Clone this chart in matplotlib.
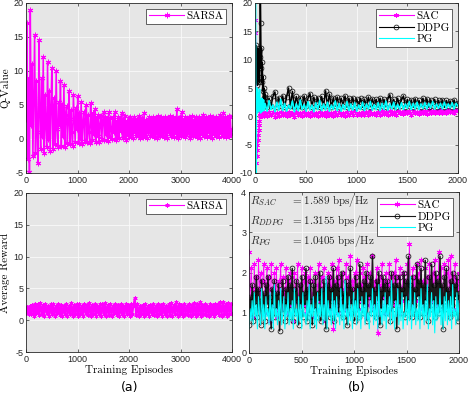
import numpy as np
import matplotlib.pyplot as plt

plt.rcParams['axes.unicode_minus'] = False
plt.rcParams['mathtext.fontset'] = 'cm'

# ---- (a) SARSA, 4000 episodes ----
sarsa_q = [
    3.0, 17.0, -3.0, 9.0, -4.8, 19.0, 2.0, 11.0, -2.5, 6.0,
    15.3, -2.0, 8.5, 1.0, -3.6, 14.5, 4.0, -1.5, 9.0, 0.5,
    12.0, -2.0, 6.5, 2.0, -1.2, 11.3, 0.0, 7.0, -1.8, 5.0,
    10.5, -1.5, 4.0, 6.0, -0.8, 10.0, 1.5, -1.2, 5.5, 2.0,
    8.6, -1.0, 5.0, 0.5, 8.0, -1.2, 3.5, 4.8, -0.6, 2.5,
    7.0, -0.8, 4.2, 1.0, -1.0, 6.5, 3.0, -0.5, 4.5, 1.5,
    6.3, -0.6, 3.8, 0.2, 5.5, -0.8, 2.5, 4.0, -0.3, 3.0,
    5.0, -0.5, 3.6, 1.0, -0.6, 5.3, 2.0, -0.2, 3.8, 0.8,
    4.4, -0.4, 3.2, 0.5, 3.5, -0.5, 2.2, 3.4, 0.0, 2.8,
    4.0, -0.2, 3.3, 0.8, 2.9, -0.3, 4.0, 0.3, 3.1, 1.5,
    0.0, 3.2, 1.0, 3.9, -0.2, 2.7, 0.5, 3.3, 0.2, 3.0,
    1.2, 3.8, 0.1, 2.9, 0.6, 3.4, -0.1, 2.6, 0.8, 3.1,
    0.3, 3.2, 0.9, 2.8, 0.2, 3.3, 1.1, 2.7, 0.4, 3.0,
    0.6, 3.4, 0.1, 2.9, 0.8, 3.1, 0.3, 3.8, 0.5, 2.8,
    0.2, 3.0, 1.0, 3.3, 0.4, 2.9, 0.7, 3.2, 0.3, 2.7,
    0.9, 3.1, 0.2, 3.4, 0.6, 2.8, 0.4, 3.2, 0.8, 3.0,
    0.3, 3.3, 0.7, 2.9, 0.2, 3.1, 1.0, 3.4, 0.4, 2.8,
    0.6, 3.2, 0.3, 3.0, 0.9, 4.4, 0.2, 3.1, 0.7, 3.3,
    0.4, 4.0, 0.8, 2.9, 0.3, 3.2, 0.6, 3.0, 1.0, 3.3,
    0.2, 3.1, 0.7, 3.4, 0.4, 2.8, 0.9, 3.2, 0.3, 3.0,
    0.6, 3.3, 0.2, 3.0, 0.8, 3.5, 0.4, 2.9, 0.7, 3.2,
    0.3, 3.0, 1.0, 3.4, 0.5, 3.1, 0.2, 3.3, 0.8, 2.9,
    0.4, 3.2, 0.7, 3.0, 0.3, 3.5, 0.9, 3.1, 0.5, 3.8,
    0.6, 3.3, 0.3, 3.0, 0.8, 3.4, 0.5, 3.2, 0.7, 1.5,
]
sarsa_r = [
    1.2, 2.0, 0.9, 2.2, 1.0, 2.4, 0.7, 2.6, 1.1, 2.5,
    0.8, 2.7, 1.0, 2.4, 0.6, 2.6, 1.2, 2.3, 0.7, 2.5,
    0.9, 2.6, 0.6, 2.2, 1.1, 2.5, 0.8, 2.4, 0.6, 2.3,
    1.0, 2.6, 0.7, 2.3, 0.9, 2.7, 0.6, 2.4, 1.0, 2.5,
    0.7, 2.6, 0.9, 2.3, 0.6, 2.5, 1.1, 2.4, 0.8, 2.7,
    0.6, 2.4, 1.0, 2.6, 0.7, 2.3, 0.9, 2.5, 0.6, 2.6,
    1.0, 2.7, 0.7, 2.4, 0.8, 2.5, 0.6, 2.3, 1.1, 2.6,
    0.8, 2.4, 0.6, 2.5, 0.9, 2.3, 0.7, 2.6, 1.0, 2.4,
    0.7, 2.5, 0.9, 2.4, 3.5, 0.8, 2.6, 0.6, 2.3, 1.0,
    2.4, 0.7, 2.5, 0.9, 2.2, 0.6, 2.4, 1.0, 2.6, 0.8,
    2.3, 0.7, 2.5, 1.0, 2.4, 0.6, 2.6, 0.9, 2.3, 0.7,
    2.5, 0.8, 2.7, 0.6, 2.4, 1.0, 2.8, 0.7, 2.5, 0.9,
    2.4, 0.6, 2.6, 1.0, 2.3, 0.8, 2.5, 0.7, 2.4, 0.9,
    2.7, 0.7, 2.5, 0.9, 2.8, 0.6, 2.4, 1.0, 2.5, 0.8,
    2.3, 0.7, 2.6, 0.9, 2.4, 0.6, 2.5, 1.1, 2.6, 0.8,
    2.8, 0.7, 2.9, 0.9, 2.6, 0.6, 2.7, 1.0, 2.5, 0.9,
]

# ---- (b) SAC / DDPG / PG, 2000 episodes ----
# Q-value: first 100 episodes sampled every 4 episodes, then 100 samples up to 2000
sac_q_early = [17.0, 14.7, 11.0, -8.2, -7.0, -6.0, -5.0, -4.2, -3.3, -2.4,
               -1.5, -0.8, 0.0, 0.5, 0.1, 0.7, 0.2, 0.6, 0.0, 0.5,
               0.2, 0.7, 0.1, 0.6, 0.3]
ddpg_q_early = [7.5, 10.0, 6.0, 12.5, 8.0, 11.0, 5.5, 12.0, 9.0, 7.0,
                11.5, 6.0, 10.5, 24.0, 16.5, 8.5, 12.0, 6.0, 9.5, 4.5,
                7.0, 3.2, 5.0, 2.0, 4.0]
pg_q_early = [2.0, 24.0, -14.0, 3.0, 0.5, 5.0, 1.0, 4.2, 0.8, 3.5,
              1.5, 4.8, 1.0, 3.0, 0.6, 2.8, 1.2, 3.2, 0.9, 2.5,
              1.4, 2.9, 1.0, 2.2, 1.5]
sac_q_late = [
    0.6, 0.0, 0.7, 0.2, 0.8, -0.1, 0.5, 0.1, 0.7, 0.2,
    0.6, 0.0, 0.8, 0.3, 0.5, -0.1, 0.7, 0.2, 0.6, 0.1,
    0.8, 0.2, 0.5, 0.0, 0.7, 0.3, 0.6, 0.1, 0.8, 0.2,
    0.5, 0.1, 0.7, 0.3, 0.6, 0.0, 0.8, 0.2, 0.7, 0.3,
    0.6, 0.1, 0.8, 0.3, 0.7, 0.2, 0.9, 0.3, 0.6, 0.2,
    0.8, 0.3, 0.7, 0.2, 0.9, 0.4, 0.6, 0.3, 0.8, 0.2,
    0.9, 0.4, 0.7, 0.3, 1.0, 0.4, 0.8, 0.3, 0.9, 0.5,
    0.8, 0.4, 1.0, 0.5, 0.9, 0.3, 1.0, 0.5, 0.8, 0.4,
    1.0, 0.5, 0.9, 0.4, 1.1, 0.6, 0.9, 0.5, 1.0, 0.6,
    1.1, 0.6, 0.9, 0.5, 1.2, 0.7, 1.0, 0.6, 1.2, 0.9,
]
ddpg_q_late = [
    3.4, 1.6, 3.2, 1.8, 3.5, 4.3, 1.7, 3.3, 1.9, 3.6,
    1.6, 3.4, 5.0, 1.8, 4.4, 1.7, 3.5, 1.9, 3.3, 1.6,
    3.6, 1.8, 3.2, 4.0, 1.7, 3.4, 1.9, 3.3, 1.6, 3.5,
    1.8, 4.5, 1.9, 3.9, 1.6, 3.3, 1.8, 3.4, 1.7, 3.2,
    1.9, 3.6, 1.6, 3.2, 1.8, 3.3, 1.7, 3.1, 1.9, 3.2,
    1.6, 3.0, 1.8, 3.4, 1.7, 3.1, 1.9, 3.0, 1.6, 3.2,
    1.8, 3.0, 1.7, 3.1, 3.8, 1.8, 3.0, 1.6, 3.2, 1.9,
    2.9, 3.6, 1.7, 3.0, 1.8, 2.9, 1.6, 3.1, 1.9, 2.8,
    1.7, 3.2, 1.8, 3.1, 1.6, 2.9, 1.9, 3.0, 1.7, 2.8,
    1.8, 2.9, 1.6, 2.8, 1.9, 2.7, 1.7, 2.9, 1.8, 2.4,
]
pg_q_late = [
    2.2, 0.9, 2.8, 1.2, 2.0, 0.8, 2.5, 1.1, 3.0, 1.0,
    2.3, 0.9, 2.0, 1.3, 2.7, 0.8, 2.2, 1.0, 2.9, 1.2,
    2.1, 0.9, 2.6, 1.1, 2.0, 0.8, 2.4, 1.2, 2.8, 1.0,
    2.2, 1.1, 2.5, 0.9, 2.0, 1.2, 2.7, 1.0, 2.3, 0.9,
    2.1, 1.2, 2.6, 1.0, 2.2, 1.1, 2.4, 0.9, 2.0, 1.2,
    2.5, 1.0, 2.2, 1.3, 2.6, 1.1, 2.1, 1.2, 2.4, 1.0,
    2.3, 1.2, 2.7, 1.1, 2.2, 1.3, 2.5, 1.2, 2.1, 1.3,
    2.4, 1.2, 2.2, 1.4, 2.6, 1.2, 2.3, 1.3, 2.5, 1.2,
    2.2, 1.4, 2.4, 1.3, 2.3, 1.5, 2.6, 1.3, 2.2, 1.4,
    2.3, 1.3, 2.5, 1.4, 2.2, 1.5, 2.4, 1.3, 2.3, 1.8,
]

sac_r = [
    2.5, 1.3, 2.1, 1.6, 0.9, 2.2, 1.4, 1.9, 1.1, 2.3,
    1.5, 2.0, 1.2, 1.8, 2.2, 1.0, 1.7, 2.1, 1.3, 1.9,
    0.8, 2.2, 1.6, 1.2, 2.0, 1.4, 2.1, 0.9, 1.8, 1.5,
    2.2, 1.1, 1.9, 1.6, 1.3, 2.1, 1.0, 1.8, 1.5, 2.0,
    1.2, 1.9, 0.8, 2.0, 1.6, 1.3, 2.2, 1.1, 1.7, 1.4,
    2.1, 1.2, 1.8, 2.0, 1.0, 1.6, 1.9, 1.3, 2.1, 1.5,
    0.9, 1.8, 1.4, 2.0, 1.1, 1.7, 2.2, 1.3, 1.6, 1.9,
    1.2, 2.1, 0.8, 1.7, 1.5, 2.0, 1.1, 1.9, 1.4, 2.2,
    0.6, 1.8, 1.3, 2.1, 1.0, 2.3, 1.5, 1.9, 1.2, 2.0,
    1.6, 1.1, 2.2, 1.4, 1.9, 1.0, 2.4, 1.3, 1.8, 1.6,
    2.0, 1.2, 2.3, 1.5, 1.1, 2.0, 1.7, 1.3, 2.1, 1.4,
    1.9, 0.9, 2.2, 1.6, 1.2, 2.0, 1.4, 2.4, 1.1, 1.8,
    1.5, 2.1, 0.5, 1.7, 1.9, 1.2, 2.2, 1.4, 1.8, 1.0,
    2.0, 1.3, 1.7, 2.2, 1.1, 1.9, 1.5, 2.0, 1.2, 2.3,
    1.4, 1.9, 1.0, 2.1, 1.6, 1.3, 2.0, 1.5, 1.8, 1.2,
    2.2, 1.4, 2.7, 1.6, 1.2, 2.1, 1.5, 1.9, 1.3, 2.2,
    1.6, 2.0, 1.1, 2.3, 1.4, 1.8, 1.2, 2.1, 1.5, 1.9,
    1.0, 2.2, 1.6, 1.3, 2.0, 1.5, 2.3, 1.2, 1.9, 1.4,
    2.5, 1.3, 2.1, 1.6, 1.1, 2.2, 1.4, 2.0, 1.2, 2.3,
    1.5, 2.4, 1.3, 1.9, 1.1, 2.2, 1.6, 1.8, 1.3, 2.0,
]
ddpg_r = [
    0.7, 1.4, 1.0, 1.7, 0.8, 1.5, 1.2, 1.9, 0.9, 1.6,
    1.3, 0.7, 1.8, 1.1, 1.5, 0.8, 1.7, 1.2, 1.9, 1.0,
    1.4, 0.6, 1.6, 1.2, 1.8, 0.9, 1.5, 1.1, 1.7, 0.55,
    1.5, 1.0, 1.8, 1.3, 0.8, 1.6, 1.1, 1.9, 0.9, 1.7,
    1.2, 2.1, 0.8, 1.6, 1.0, 1.8, 1.3, 0.7, 1.7, 1.1,
    1.9, 0.9, 1.5, 1.2, 2.1, 0.8, 1.6, 1.0, 1.8, 1.3,
    0.7, 1.7, 1.1, 1.9, 0.9, 1.5, 1.3, 2.0, 0.8, 1.6,
    1.0, 1.8, 1.2, 0.6, 1.7, 1.1, 1.9, 0.9, 1.6, 1.3,
    2.1, 0.8, 1.7, 1.2, 1.9, 1.0, 1.6, 1.4, 2.0, 0.9,
    1.5, 1.1, 1.8, 0.7, 1.7, 1.2, 2.1, 1.0, 1.6, 1.3,
    0.8, 1.9, 1.1, 1.7, 0.9, 2.2, 1.3, 1.6, 1.0, 1.8,
    1.2, 2.0, 0.8, 1.7, 1.4, 1.9, 1.0, 2.4, 1.2, 1.6,
    0.9, 1.8, 1.3, 2.0, 0.7, 1.6, 1.1, 1.9, 1.4, 1.7,
    1.0, 1.8, 1.2, 1.6, 0.8, 2.0, 1.1, 1.7, 1.3, 1.9,
    0.6, 1.7, 1.2, 1.9, 1.0, 1.6, 1.4, 2.0, 0.9, 1.8,
    1.1, 2.4, 1.3, 1.7, 0.9, 1.9, 1.2, 1.6, 1.0, 2.2,
    1.4, 1.8, 0.9, 2.1, 1.2, 1.7, 1.0, 2.3, 1.3, 1.6,
    0.8, 1.9, 1.1, 2.2, 1.3, 1.7, 0.9, 2.0, 1.2, 1.8,
    1.0, 2.4, 1.2, 1.7, 0.6, 1.9, 1.3, 2.1, 1.1, 1.6,
    0.9, 1.8, 1.2, 2.0, 1.0, 1.7, 1.4, 1.9, 0.8, 1.5,
]
pg_r = [
    0.6, 1.1, 0.8, 1.3, 0.7, 1.5, 0.9, 1.2, 0.6, 1.4,
    1.0, 0.7, 1.6, 0.8, 1.2, 0.6, 1.4, 0.9, 1.1, 0.7,
    1.5, 0.8, 1.2, 0.6, 1.7, 0.9, 1.1, 0.7, 1.3, 0.8,
    1.6, 0.7, 1.0, 1.4, 0.6, 1.2, 0.9, 1.5, 0.7, 1.1,
    0.8, 1.3, 0.6, 1.6, 0.9, 1.1, 0.7, 1.4, 0.8, 1.2,
    0.6, 1.5, 0.9, 1.0, 0.7, 1.3, 0.8, 1.7, 0.6, 1.2,
    0.9, 1.4, 0.7, 1.1, 0.6, 1.5, 0.8, 1.2, 0.9, 1.6,
    0.7, 1.2, 0.8, 1.9, 0.6, 1.3, 0.9, 1.1, 0.7, 1.5,
    0.8, 1.3, 0.6, 1.4, 0.9, 1.0, 0.7, 1.6, 0.8, 1.2,
    0.6, 1.8, 0.9, 1.1, 0.7, 1.4, 0.8, 1.2, 0.6, 1.5,
    0.9, 1.3, 0.7, 1.6, 0.8, 1.1, 0.6, 1.4, 0.9, 1.2,
    0.7, 1.5, 0.8, 1.0, 0.6, 1.3, 0.9, 1.6, 0.7, 1.2,
    0.8, 1.4, 0.6, 1.7, 0.9, 1.1, 0.7, 1.3, 0.8, 1.5,
    0.6, 1.2, 0.9, 1.4, 0.7, 1.8, 0.8, 1.1, 0.6, 1.3,
    0.9, 1.6, 0.7, 1.2, 0.8, 1.5, 0.6, 1.0, 0.9, 1.4,
    0.7, 1.3, 0.8, 1.9, 0.6, 1.2, 0.9, 1.5, 0.7, 1.1,
    0.8, 1.4, 0.6, 1.6, 0.9, 1.2, 0.7, 1.3, 0.8, 1.7,
    0.6, 1.1, 0.9, 1.5, 0.7, 1.3, 0.5, 1.4, 0.8, 1.2,
    0.9, 1.6, 0.7, 1.2, 0.6, 1.4, 0.8, 1.5, 0.7, 1.3,
    0.8, 1.4, 0.6, 1.7, 0.9, 1.1, 0.7, 1.5, 0.8, 1.3,
]
rates = [('SAC', '1.589'), ('DDPG', '1.3155'), ('PG', '1.0405')]

ep_q_a = np.linspace(0, 4000, len(sarsa_q))
ep_r_a = np.linspace(0, 4000, len(sarsa_r))
ep_q = np.concatenate([np.arange(0, 100, 4), np.linspace(100, 2000, len(sac_q_late))])
ep_r = np.linspace(0, 2000, len(sac_r))
sac_q = sac_q_early + sac_q_late
ddpg_q = ddpg_q_early + ddpg_q_late
pg_q = pg_q_early + pg_q_late

MAG = '#ff00ff'
CYA = '#00ffff'
AST = (6, 2, 0)
serif = ['cmr10', 'DejaVu Serif']
tickfont = 'Liberation Sans'

fig = plt.figure(figsize=(4.7, 3.96), dpi=100)
W, H = 470.0, 396.0


def box(l, r, t, b):
    return [l / W, 1 - b / H, (r - l) / W, (b - t) / H]


def style(ax, xlim, ylim, xticks, yticks):
    ax.set_facecolor('#e6e6e6')
    ax.set_xlim(xlim)
    ax.set_ylim(ylim)
    ax.set_xticks(xticks)
    ax.set_yticks(yticks)
    ax.grid(True, color='#fafafa', lw=0.6)
    ax.set_axisbelow(True)
    ax.tick_params(direction='in', top=True, right=True, length=2.5, width=0.5,
                   labelsize=6.5, pad=2, colors='#262626')
    for lab in ax.get_xticklabels() + ax.get_yticklabels():
        lab.set_fontfamily(tickfont)
    for s in ax.spines.values():
        s.set_linewidth(0.6)
        s.set_color('#262626')


def legend(ax):
    leg = ax.legend(loc='upper right', prop={'family': serif, 'size': 8}, fancybox=False,
                    edgecolor='#262626', framealpha=1, handlelength=3.2, borderpad=0.25,
                    labelspacing=0.15, handletextpad=0.2, borderaxespad=0.5)
    leg.get_frame().set_linewidth(0.5)
    for h in leg.get_lines():
        h.set_linewidth(0.8)


ax1 = fig.add_axes(box(26, 232, 3, 173))
ax1.plot(ep_q_a, sarsa_q, color=MAG, lw=1.1, marker=AST, ms=4, mew=0.7, label='SARSA')
style(ax1, (0, 4000), (-5, 20), range(0, 4001, 1000), range(-5, 21, 5))
ax1.set_ylabel('Q-Value', family=serif, fontsize=8, labelpad=2)
legend(ax1)

ax2 = fig.add_axes(box(255, 458, 3, 173))
ax2.plot(ep_q, sac_q, color=MAG, lw=0.9, marker=AST, ms=3.5, mew=0.6, label='SAC')
ax2.plot(ep_q, ddpg_q, color='black', lw=1.1, marker='o', ms=3.5, mew=0.5,
         mfc='none', label='DDPG')
ax2.plot(ep_q, pg_q, color=CYA, lw=1.2, label='PG')
style(ax2, (0, 2000), (-10, 20), range(0, 2001, 500), range(-10, 21, 5))
legend(ax2)

ax3 = fig.add_axes(box(26, 232, 193, 352))
ax3.plot(ep_r_a, sarsa_r, color=MAG, lw=1.4, marker=AST, ms=3, mew=0.6, label='SARSA')
style(ax3, (0, 4000), (-5, 20), range(0, 4001, 1000), range(-5, 21, 5))
ax3.set_ylabel('Average Reward', family=serif, fontsize=8, labelpad=2)
ax3.set_xlabel('Training Episodes', family=serif, fontsize=8, labelpad=1)
legend(ax3)

ax4 = fig.add_axes(box(249, 459, 192, 353))
ax4.plot(ep_r, sac_r, color=MAG, lw=0.6, marker=AST, ms=4, mew=0.6, label='SAC')
ax4.plot(ep_r, ddpg_r, color='#1a1a1a', lw=1.1, marker='o', ms=3.5, mew=0.5,
         mfc='none', mec='black', label='DDPG')
ax4.plot(ep_r, pg_r, color=CYA, lw=0.8, label='PG')
style(ax4, (0, 2000), (0, 4), range(0, 2001, 500), range(0, 5, 1))
ax4.set_xlabel('Training Episodes', family=serif, fontsize=8, labelpad=1)
legend(ax4)
for i, (name, val) in enumerate(rates):
    y = 3.78 - 0.5 * i
    ax4.text(10, y, r'$R_{%s}$' % name, fontsize=8, va='center', color='#262626')
    ax4.text(400, y, r'$= %s\ \mathrm{bps/Hz}$' % val, fontsize=8, va='center',
             color='#262626')

fig.text(130 / W, 1 - 387 / H, '(a)', fontsize=9, ha='center', va='center')
fig.text(357 / W, 1 - 387 / H, '(b)', fontsize=9, ha='center', va='center')

fig.savefig('out.png', dpi=100)
